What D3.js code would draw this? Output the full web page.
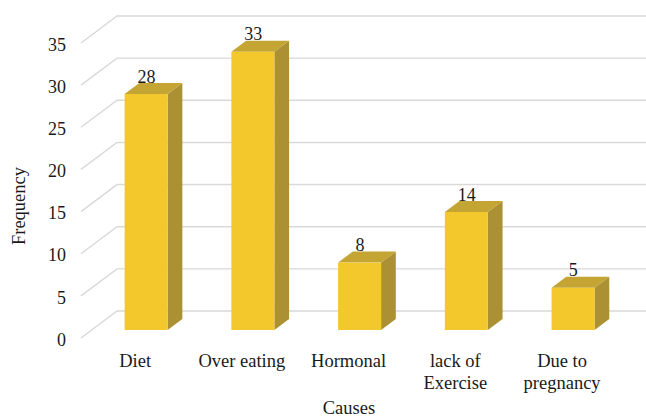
<!DOCTYPE html>
<html><head><meta charset="utf-8">
<script src="https://cdn.jsdelivr.net/npm/d3@7"></script>
<style>html,body{margin:0;padding:0;background:#fff}svg{display:block}text{font-family:"Liberation Serif",serif;fill:#1a1a1a}</style>
</head><body><svg id="c" width="646" height="418"></svg>
<script>
const categories = ["Diet","Over eating","Hormonal","lack of|Exercise","Due to|pregnancy"];
const values = [28,33,8,14,5];
const yTicks = [0,5,10,15,20,25,30,35];
const axisTitles = ["Causes","Frequency"];

const svg = d3.select("#c");
const y = d3.scaleLinear().domain([0,35]).range([338,43]);
const x = d3.scaleBand().domain(categories).range([92.6,626.6]).paddingInner(0.597).paddingOuter(0.3);
const depthX = 36, depthY = 27, barDX = 14.7, barDY = 11, frontY = 8;
const right = 646;

const grid = svg.append("g").attr("fill","none").attr("stroke","#d9d9d9").attr("stroke-width",1.4);
yTicks.forEach(t=>{
  grid.append("path").attr("d",`M81,${y(t)}L${81+depthX},${y(t)-depthY}L${right},${y(t)-depthY}`);
});

const yAxis = d3.axisLeft(y).tickValues(yTicks).tickSize(0).tickPadding(0);
const ga = svg.append("g").attr("transform","translate(66,1.5)").call(yAxis);
ga.select(".domain").remove();
ga.selectAll("text").attr("font-size",18).attr("dy","0.32em");

const cx = c=>x(c)+x.bandwidth()/2;
const bars = svg.append("g").selectAll("g").data(categories).join("g");
const barTop = (d,i)=>y(values[i])-frontY, base = y(0)-frontY;
bars.append("path").attr("fill","#ab9133").attr("d",(d,i)=>{
  const r=x(d)+x.bandwidth();
  return `M${r},${barTop(d,i)}L${r+barDX},${barTop(d,i)-barDY}L${r+barDX},${base-barDY}L${r},${base}Z`;});
bars.append("path").attr("fill","#c4a432").attr("d",(d,i)=>{
  const l=x(d), r=l+x.bandwidth();
  return `M${l},${barTop(d,i)}L${l+barDX},${barTop(d,i)-barDY}L${r+barDX},${barTop(d,i)-barDY}L${r},${barTop(d,i)}Z`;});
bars.append("rect").attr("fill","#f2c82c").attr("x",d=>x(d)).attr("width",x.bandwidth())
  .attr("y",(d,i)=>barTop(d,i)).attr("height",(d,i)=>base-barTop(d,i));
bars.append("text").attr("text-anchor","middle").attr("font-size",18)
  .attr("x",d=>cx(d)+0.3).attr("y",(d,i)=>barTop(d,i)-11.5)
  .text((d,i)=>values[i]);

const labels = svg.append("g").selectAll("text").data(categories).join("text")
  .attr("text-anchor","middle").attr("font-size",18.5);
labels.each(function(d){
  const t=d3.select(this);
  d.split("|").forEach((s,i)=>t.append("tspan").attr("x",cx(d)-11).attr("y",367+i*22).text(s));
});
svg.append("text").attr("x",349).attr("y",413.5).attr("text-anchor","middle").attr("font-size",18.5).text(axisTitles[0]);
svg.append("text").attr("transform","translate(25,206) rotate(-90)").attr("text-anchor","middle").attr("font-size",18.5).text(axisTitles[1]);
</script></body></html>
